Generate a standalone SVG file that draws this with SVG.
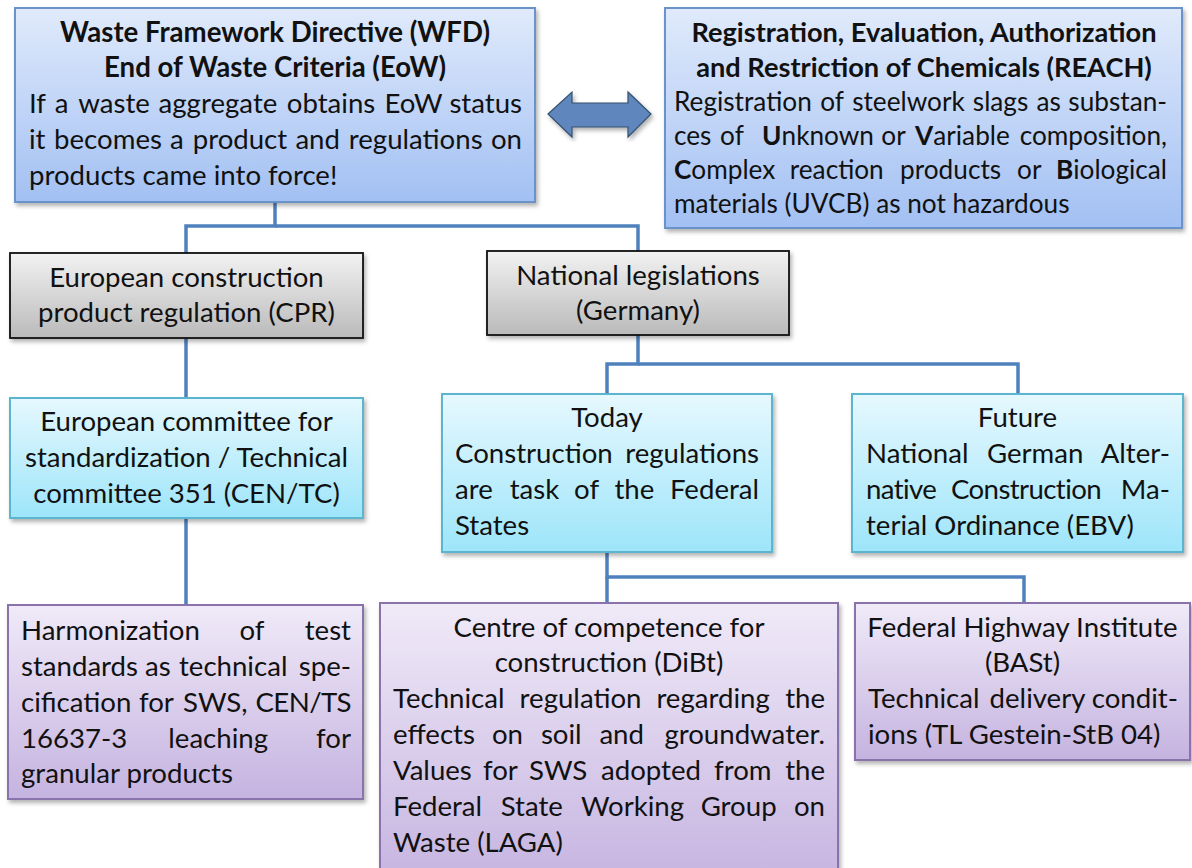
<svg xmlns="http://www.w3.org/2000/svg" width="1192" height="868" viewBox="0 0 1192 868">
  <style>
    text { font-family: Lato, "Liberation Sans", sans-serif; font-size: 27.6px; fill: #111; }
    .b { font-weight: bold; }
    .c { text-anchor: middle; }
    .e { text-anchor: end; }
    .sm { font-size: 26.2px; }
    .hd { font-size: 27.2px; }
    .tight { letter-spacing: -0.6px; }
    .box { stroke-width: 2; filter: url(#shadow); }
    .blue { fill: url(#gBlue); stroke: #6a93c9; }
    .gray { fill: url(#gGray); stroke: #111; stroke-width: 1.8; }
    .cyan { fill: url(#gCyan); stroke: #5cb5cf; }
    .purple { fill: url(#gPurple); stroke: #8a72ab; }
    .link { fill: none; stroke: #4f81bd; stroke-width: 3.5; stroke-linejoin: miter; }
  </style>
  <defs>
    <linearGradient id="gBlue" x1="0" y1="0" x2="0" y2="1">
      <stop offset="0" stop-color="#e0eafb"/>
      <stop offset="1" stop-color="#a2c0f3"/>
    </linearGradient>
    <linearGradient id="gGray" x1="0" y1="0" x2="0" y2="1">
      <stop offset="0" stop-color="#f2f2f2"/>
      <stop offset="1" stop-color="#bababa"/>
    </linearGradient>
    <linearGradient id="gCyan" x1="0" y1="0" x2="0" y2="1">
      <stop offset="0" stop-color="#e6f8fe"/>
      <stop offset="1" stop-color="#9de5fa"/>
    </linearGradient>
    <linearGradient id="gPurple" x1="0" y1="0" x2="0" y2="1">
      <stop offset="0" stop-color="#f0eaf8"/>
      <stop offset="1" stop-color="#c5b3e0"/>
    </linearGradient>
    <filter id="shadow" x="-5%" y="-5%" width="112%" height="115%">
      <feDropShadow dx="2" dy="3" stdDeviation="2" flood-color="#000" flood-opacity="0.3"/>
    </filter>
  </defs>

  <!-- tree connectors -->
  <g id="connectors">
    <polyline class="link" points="275,202 275,226 186,226 186,253"/>
    <polyline class="link" points="275,226 638,226 638,251"/>
    <line class="link" x1="186" y1="338" x2="186" y2="398"/>
    <line class="link" x1="186" y1="518" x2="186" y2="605"/>
    <polyline class="link" points="638,335 638,364 607,364 607,394"/>
    <polyline class="link" points="638,364 1018,364 1018,394"/>
    <polyline class="link" points="607,552 607,577 1024,577 1024,603"/>
    <line class="link" x1="607" y1="577" x2="607" y2="603"/>
    <!-- two-way link between WFD and REACH -->
    <polygon points="548,114 572,92 572,103 628,103 628,92 651,114 628,137 628,127 572,127 572,137" fill="#5f87bd" stroke="#34506f" stroke-width="1.2" filter="url(#shadow)"/>
  </g>

  <!-- Waste Framework Directive -->
  <g id="wfd">
    <rect class="box blue" x="15" y="8" width="520" height="194"/>
    <text class="b c" x="275" y="42">Waste Framework Directive (WFD)</text>
    <text class="b c" x="275" y="77">End of Waste Criteria (EoW)</text>
    <text y="113"><tspan x="29">If</tspan><tspan x="54.8">a</tspan><tspan x="78.3">waste</tspan><tspan x="158.6">aggregate</tspan><tspan x="286.8">obtains</tspan><tspan x="384.6">EoW</tspan><tspan x="522" class="e">status</tspan></text>
    <text y="149"><tspan x="29">it</tspan><tspan x="54.1">becomes</tspan><tspan x="170.1">a</tspan><tspan x="192.7">product</tspan><tspan x="295.4">and</tspan><tspan x="348.8">regulations</tspan><tspan x="522" class="e">on</tspan></text>
    <text x="29" y="185">products came into force!</text>
  </g>

  <!-- REACH -->
  <g id="reach">
    <rect class="box blue" x="665" y="8" width="517" height="220"/>
    <text class="b c hd" x="924" y="42">Registration, Evaluation, Authorization</text>
    <text class="b c hd" x="924" y="77">and Restriction of Chemicals (REACH)</text>
    <text class="sm" y="111"><tspan x="674">Registration</tspan><tspan x="820.2">of</tspan><tspan x="852.2">steelwork</tspan><tspan x="972.8">slags</tspan><tspan x="1036.5">as</tspan><tspan x="1167" class="e">substan-</tspan></text>
    <text class="sm" y="145"><tspan x="674">ces</tspan><tspan x="720.1">of</tspan><tspan x="762.1"><tspan class="b">U</tspan>nknown</tspan><tspan x="881.3">or</tspan><tspan x="915.1"><tspan class="b">V</tspan>ariable</tspan><tspan x="1167" class="e">composition,</tspan></text>
    <text class="sm" y="179"><tspan x="674"><tspan class="b">C</tspan>omplex</tspan><tspan x="789.8">reaction</tspan><tspan x="900.1">products</tspan><tspan x="1017.1">or</tspan><tspan x="1167" class="e"><tspan class="b">B</tspan>iological</tspan></text>
    <text class="sm" x="674" y="213">materials (UVCB) as not hazardous</text>
  </g>

  <!-- European construction product regulation -->
  <g id="cpr">
    <rect class="box gray" x="10" y="253" width="353" height="85"/>
    <text class="c" x="186.5" y="287">European construction</text>
    <text class="c" x="186.5" y="322">product regulation (CPR)</text>
  </g>

  <!-- National legislations -->
  <g id="national">
    <rect class="box gray" x="487" y="251" width="302" height="84"/>
    <text class="c" x="638" y="285">National legislations</text>
    <text class="c" x="638" y="320">(Germany)</text>
  </g>

  <!-- CEN/TC 351 -->
  <g id="cen">
    <rect class="box cyan" x="10" y="398" width="353" height="120"/>
    <text class="c" x="186.5" y="431">European committee for</text>
    <text class="c" x="186.5" y="467">standardization / Technical</text>
    <text class="c" x="186.5" y="503">committee 351 (CEN/TC)</text>
  </g>

  <!-- Today -->
  <g id="today">
    <rect class="box cyan" x="442" y="394" width="330" height="158"/>
    <text class="c" x="607" y="427">Today</text>
    <text y="463"><tspan x="455">Construction</tspan><tspan x="759" class="e">regulations</tspan></text>
    <text y="499"><tspan x="455">are</tspan><tspan x="509.7">task</tspan><tspan x="574.1">of</tspan><tspan x="614.4">the</tspan><tspan x="759" class="e">Federal</tspan></text>
    <text x="455" y="535">States</text>
  </g>

  <!-- Future -->
  <g id="future">
    <rect class="box cyan" x="852" y="394" width="331" height="158"/>
    <text class="c" x="1017.5" y="427">Future</text>
    <text y="463"><tspan x="866">National</tspan><tspan x="986.9">German</tspan><tspan x="1170" class="e">Alter-</tspan></text>
    <text y="499"><tspan x="866" class="tight">native</tspan><tspan x="951" class="tight">Construction</tspan><tspan x="1170" class="e">Ma-</tspan></text>
    <text x="866" y="535">terial Ordinance (EBV)</text>
  </g>

  <!-- Harmonization of test standards -->
  <g id="harmonization">
    <rect class="box purple" x="8" y="605" width="355" height="194"/>
    <text y="640"><tspan x="21">Harmonization</tspan><tspan x="239.4">of</tspan><tspan x="351" class="e">test</tspan></text>
    <text y="676"><tspan x="21">standards</tspan><tspan x="145">as</tspan><tspan x="179">technical</tspan><tspan x="351" class="e">spe-</tspan></text>
    <text y="712"><tspan x="21">cification</tspan><tspan x="139">for</tspan><tspan x="183">SWS,</tspan><tspan x="351" class="e tight">CEN/TS</tspan></text>
    <text y="748"><tspan x="21">16637-3</tspan><tspan x="168.3">leaching</tspan><tspan x="351" class="e">for</tspan></text>
    <text x="21" y="783">granular products</text>
  </g>

  <!-- DiBt -->
  <g id="dibt">
    <rect class="box purple" x="380" y="603" width="458" height="285"/>
    <text class="c" x="609" y="637">Centre of competence for</text>
    <text class="c" x="609" y="672">construction (DiBt)</text>
    <text y="708"><tspan x="393">Technical</tspan><tspan x="519.6">regulation</tspan><tspan x="656.4">regarding</tspan><tspan x="825" class="e">the</tspan></text>
    <text y="744"><tspan x="393">effects</tspan><tspan x="491.9">on</tspan><tspan x="540.9">soil</tspan><tspan x="599.4">and</tspan><tspan x="825" class="e">groundwater.</tspan></text>
    <text y="780"><tspan x="393">Values</tspan><tspan x="483">for</tspan><tspan x="529">SWS</tspan><tspan x="601">adopted</tspan><tspan x="714">from</tspan><tspan x="825" class="e">the</tspan></text>
    <text y="816"><tspan x="393">Federal</tspan><tspan x="500.7">State</tspan><tspan x="581">Working</tspan><tspan x="700.7">Group</tspan><tspan x="825" class="e">on</tspan></text>
    <text x="393" y="852">Waste (LAGA)</text>
  </g>

  <!-- BASt -->
  <g id="bast">
    <rect class="box purple" x="855" y="603" width="335" height="157"/>
    <text class="c" x="1022.5" y="637">Federal Highway Institute</text>
    <text class="c" x="1022.5" y="672">(BASt)</text>
    <text y="708"><tspan x="868">Technical</tspan><tspan x="989.6">delivery</tspan><tspan x="1178" class="e">condit-</tspan></text>
    <text x="868" y="744">ions (TL Gestein-StB 04)</text>
  </g>
</svg>
